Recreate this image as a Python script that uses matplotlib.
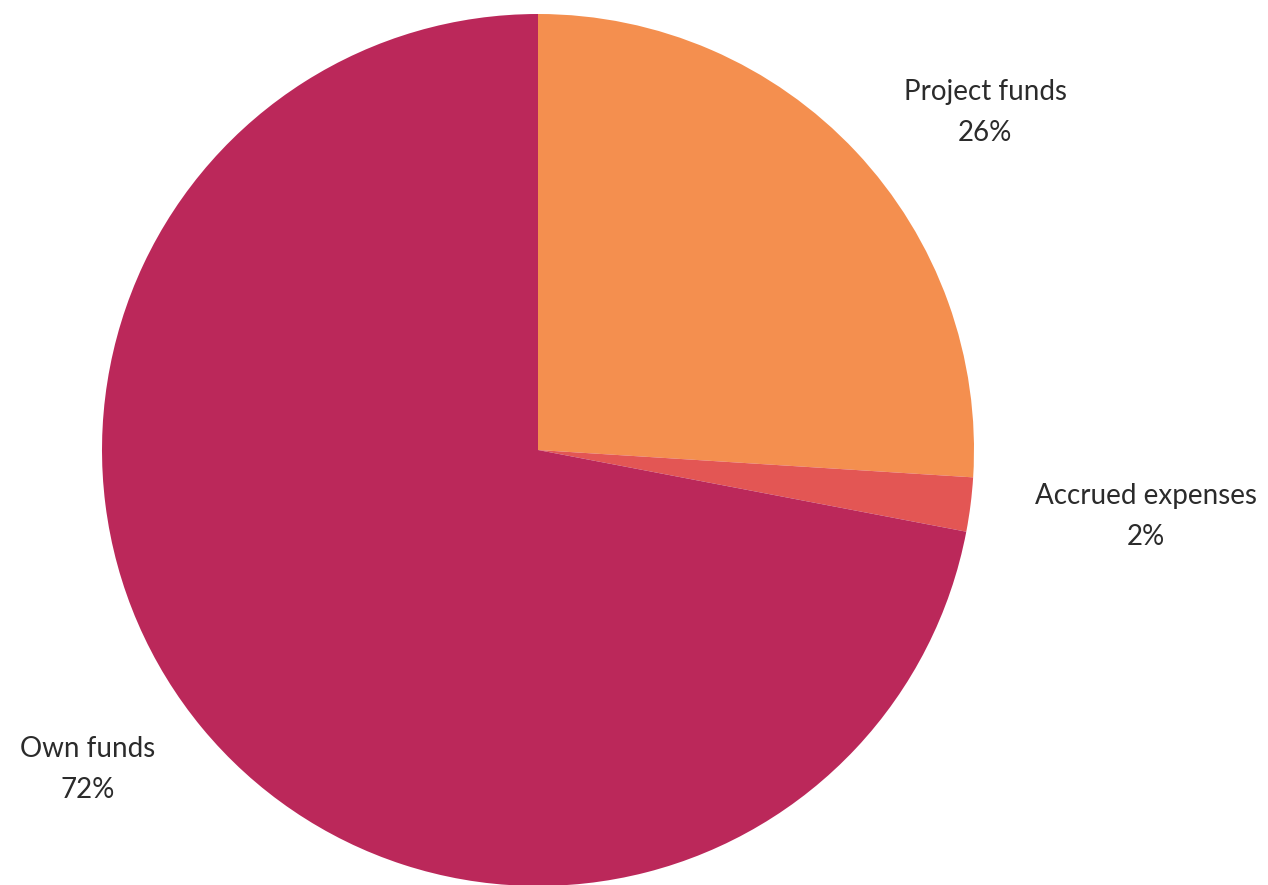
import matplotlib
matplotlib.use("Agg")
import matplotlib.pyplot as plt

categories = ["Project funds", "Accrued expenses", "Own funds"]
shares = [26, 2, 72]
colors = ["#F48F4F", "#E35654", "#BB285A"]
label_pos_px = [(985, 112), (1146, 516), (88, 769)]  # label centers in pixels (from top)

W, H = 1268, 885
fig = plt.figure(figsize=(W / 100, H / 100), dpi=100)
cx, cy, r = 538, 450, 436
ax = fig.add_axes([(cx - r) / W, (H - cy - r) / H, 2 * r / W, 2 * r / H])
ax.pie(shares, colors=colors, startangle=90, counterclock=False,
       wedgeprops=dict(linewidth=0))
ax.set_aspect("equal")
ax.set_xlim(-1, 1)
ax.set_ylim(-1, 1)
ax.axis("off")

for cat, val, (px, py) in zip(categories, shares, label_pos_px):
    fig.text(px / W, 1 - (py - 20) / H, cat, ha="center", va="center",
             fontsize=20, family="Lato", color="#2b2b2b")
    fig.text(px / W, 1 - (py + 21) / H, f"{val}%", ha="center", va="center",
             fontsize=20, family="Lato", color="#2b2b2b")

fig.savefig("out.png", dpi=100)
